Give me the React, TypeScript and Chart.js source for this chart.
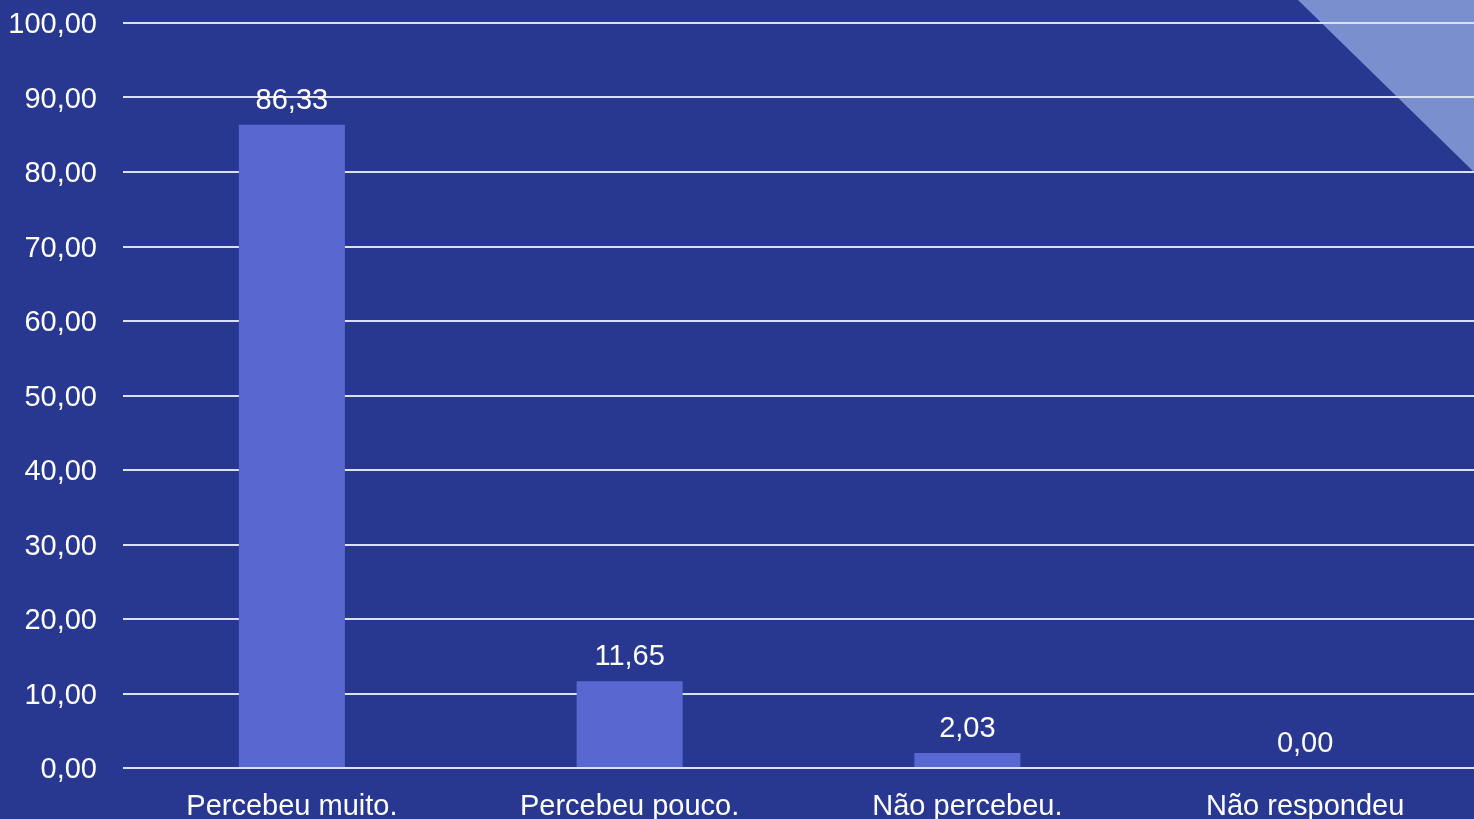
import React, { useEffect, useRef } from "react";
import { Chart, registerables } from "chart.js";

Chart.register(...registerables);

const categories = ["Percebeu muito.", "Percebeu pouco.", "Não percebeu.", "Não respondeu"];
const values = [86.33, 11.65, 2.03, 0.0];
const yTicks = [0, 10, 20, 30, 40, 50, 60, 70, 80, 90, 100];

const BG = "#283890";
const BAR = "#5968D0";
const DECOR = "#7A8FCE";
const GRID = "#DCE0F3";
const FONT = "'Liberation Sans', Arial, sans-serif";
const FONT_SIZE = 29;

const fmt = (v: number) => v.toFixed(2).replace(".", ",");

const bgPlugin = {
  id: "bgPlugin",
  beforeDraw(chart: any) {
    const { ctx, width } = chart;
    ctx.save();
    ctx.fillStyle = BG;
    ctx.fillRect(0, 0, width, chart.height);
    ctx.fillStyle = DECOR;
    ctx.beginPath();
    ctx.moveTo(width - 176, 0);
    ctx.lineTo(width, 0);
    ctx.lineTo(width, 172);
    ctx.closePath();
    ctx.fill();
    ctx.restore();
  },
};

const labelPlugin = {
  id: "labelPlugin",
  afterDatasetsDraw(chart: any) {
    const { ctx } = chart;
    const meta = chart.getDatasetMeta(0);
    ctx.save();
    ctx.fillStyle = "#FFFFFF";
    ctx.font = `${FONT_SIZE}px ${FONT}`;
    ctx.textAlign = "center";
    ctx.textBaseline = "alphabetic";
    meta.data.forEach((el: any, i: number) => {
      ctx.fillText(fmt(values[i]), el.x, el.y - 16);
    });
    ctx.restore();
  },
};

export default function App() {
  const ref = useRef<HTMLCanvasElement | null>(null);
  useEffect(() => {
    if (!ref.current) return;
    const chart = new Chart(ref.current, {
      type: "bar",
      data: {
        labels: categories,
        datasets: [
          {
            data: values,
            backgroundColor: BAR,
            borderWidth: 0,
            barPercentage: 1,
            categoryPercentage: 0.314,
          },
        ],
      },
      options: {
        animation: false,
        responsive: false,
        layout: { padding: { top: 23, left: 0, right: 0, bottom: 0 } },
        plugins: { legend: { display: false }, tooltip: { enabled: false } },
        scales: {
          x: {
            grid: { display: false },
            border: { display: false },
            ticks: {
              color: "#FFFFFF",
              font: { family: FONT, size: FONT_SIZE },
              padding: 14,
              maxRotation: 0,
              autoSkip: false,
            },
            afterFit: (s: any) => {
              s.height = 51;
              s.paddingLeft = 0;
              s.paddingRight = 0;
            },
          },
          y: {
            min: 0,
            max: 100,
            afterBuildTicks: (s: any) => {
              s.ticks = yTicks.map((v) => ({ value: v }));
            },
            grid: { color: GRID, lineWidth: 2, drawTicks: false },
            border: { display: false },
            ticks: {
              color: "#FFFFFF",
              font: { family: FONT, size: FONT_SIZE },
              padding: 26,
              labelOffset: 2,
              callback: (v: any) => fmt(Number(v)),
            },
            afterFit: (s: any) => {
              s.width = 123;
              s.paddingTop = 0;
              s.paddingBottom = 0;
            },
          },
        },
      },
      plugins: [bgPlugin, labelPlugin],
    });
    return () => chart.destroy();
  }, []);
  return (
    <div style={{ position: "fixed", left: 0, top: 0, width: 1474, height: 819, overflow: "hidden", background: BG }}>
      <canvas ref={ref} width={1474} height={819} style={{ display: "block" }} />
    </div>
  );
}
